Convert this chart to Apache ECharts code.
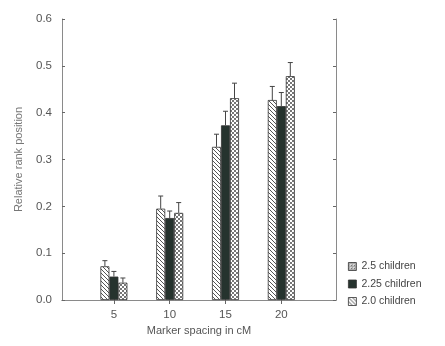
<!DOCTYPE html>
<html><head><meta charset="utf-8">
<script src="https://cdn.jsdelivr.net/npm/echarts@6/dist/echarts.min.js"></script>
<style>html,body{margin:0;padding:0;background:#fff}#c{width:445px;height:346px}</style>
</head><body><div id="c"></div>
<script>
const categories = [5, 10, 15, 20];
const seriesNames = ['2.5 children', '2.25 children', '2.0 children'];
const values25 = [0.072, 0.195, 0.327, 0.427];
const values225 = [0.050, 0.175, 0.373, 0.414];
const values20 = [0.037, 0.186, 0.431, 0.478];
const errors25 = [0.012, 0.027, 0.027, 0.029];
const errors225 = [0.011, 0.015, 0.030, 0.029];
const errors20 = [0.010, 0.022, 0.032, 0.029];
const yTicks = [0, 0.1, 0.2, 0.3, 0.4, 0.5, 0.6];

function makePattern(kind) {
  const c = document.createElement('canvas');
  const ctx = c.getContext('2d');
  if (kind === 'hatch') {
    c.width = c.height = 4;
    ctx.fillStyle = '#fff'; ctx.fillRect(0, 0, 4, 4);
    ctx.strokeStyle = '#555'; ctx.lineWidth = 1;
    ctx.beginPath();
    ctx.moveTo(-1, -1); ctx.lineTo(5, 5);
    ctx.moveTo(-1, 3); ctx.lineTo(1, 5);
    ctx.moveTo(3, -1); ctx.lineTo(5, 1);
    ctx.stroke();
  } else if (kind === 'checker') {
    c.width = c.height = 4;
    ctx.fillStyle = '#fff'; ctx.fillRect(0, 0, 4, 4);
    ctx.fillStyle = '#777';
    ctx.fillRect(0, 0, 2, 2); ctx.fillRect(2, 2, 2, 2);
  } else if (kind === 'cross') {
    c.width = c.height = 3;
    ctx.fillStyle = '#fff'; ctx.fillRect(0, 0, 3, 3);
    ctx.fillStyle = '#555';
    ctx.fillRect(0, 0, 1, 1); ctx.fillRect(2, 0, 1, 1); ctx.fillRect(1, 1, 1, 1); ctx.fillRect(0, 2, 1, 1);
  }
  return { image: c, repeat: 'repeat' };
}

const fills = [makePattern('hatch'), '#26332e', makePattern('checker')];
const legendFills = [makePattern('cross'), '#26332e', makePattern('hatch')];
const allValues = [values25, values225, values20];
const allErrors = [errors25, errors225, errors20];
const barW = 9;

const chart = echarts.init(document.getElementById('c'), null, { renderer: 'canvas' });
const textColor = '#555';
const axisColor = '#8a8a8a';
const font = 'Liberation Sans, Arial, sans-serif';

const series = [];
seriesNames.forEach((name, i) => {
  series.push({
    name, type: 'bar', xAxisIndex: 0, yAxisIndex: 0,
    barWidth: barW, barGap: '0%',
    itemStyle: { color: fills[i], borderColor: '#333', borderWidth: 0.8 },
    data: categories.map((c, k) => [c, allValues[i][k]])
  });
});
seriesNames.forEach((name, i) => {
  series.push({
    type: 'custom', xAxisIndex: 0, yAxisIndex: 0, silent: true,
    data: categories.map((c, k) => [c, allValues[i][k], allErrors[i][k]]),
    renderItem: function (params, api) {
      const base = api.coord([api.value(0), api.value(1)]);
      const top = api.coord([api.value(0), api.value(1) + api.value(2)]);
      const x = base[0] + (i - 1) * barW;
      const style = { stroke: '#444', lineWidth: 1 };
      return { type: 'group', children: [
        { type: 'line', shape: { x1: x, y1: base[1], x2: x, y2: top[1] }, style },
        { type: 'line', shape: { x1: x - 2.5, y1: top[1], x2: x + 2.5, y2: top[1] }, style }
      ]};
    },
    z: 5
  });
});

chart.setOption({
  animation: false,
  textStyle: { fontFamily: font },
  grid: { left: 62, right: 109, top: 19, bottom: 46 },
  legend: {
    orient: 'vertical', left: 343, top: 256, itemWidth: 8, itemHeight: 8, itemGap: 6.5,
    icon: 'rect',
    textStyle: { fontSize: 10.5, color: '#444', fontFamily: font },
    data: seriesNames.map((n, i) => ({ name: n, itemStyle: { color: legendFills[i], borderColor: '#333', borderWidth: 0.8 } }))
  },
  xAxis: [{
    type: 'value', position: 'bottom', min: 0.35, max: 24.9,
    name: 'Marker spacing in cM', nameLocation: 'middle', nameGap: 21,
    nameTextStyle: { fontSize: 11, color: textColor },
    axisLine: { show: true, lineStyle: { color: axisColor } },
    axisTick: { show: true, inside: true, length: 4, customValues: categories, lineStyle: { color: axisColor } },
    axisLabel: { fontSize: 11.5, color: textColor, customValues: categories, margin: 9 },
    splitLine: { show: false }
  }, {
    type: 'value', position: 'top', min: 0.35, max: 24.9,
    axisLine: { show: true, lineStyle: { color: axisColor } },
    axisTick: { show: true, inside: true, length: 4, customValues: categories, lineStyle: { color: '#666' } },
    axisLabel: { show: false },
    splitLine: { show: false }
  }],
  yAxis: [{
    type: 'value', position: 'left', min: 0, max: 0.6, interval: 0.1,
    name: 'Relative rank position', nameLocation: 'middle', nameGap: 38, nameRotate: 90,
    nameTextStyle: { fontSize: 11, color: '#777' },
    axisLine: { show: true, lineStyle: { color: axisColor } },
    axisTick: { show: true, inside: true, length: 3, lineStyle: { color: '#666' } },
    axisLabel: { fontSize: 11.5, color: textColor, margin: 10, formatter: v => v.toFixed(1) },
    splitLine: { show: false }
  }, {
    type: 'value', position: 'right', min: 0, max: 0.6, interval: 0.1,
    axisLine: { show: true, lineStyle: { color: axisColor } },
    axisTick: { show: true, inside: true, length: 3, lineStyle: { color: '#666' } },
    axisLabel: { show: false },
    splitLine: { show: false }
  }],
  series
});
</script></body></html>
